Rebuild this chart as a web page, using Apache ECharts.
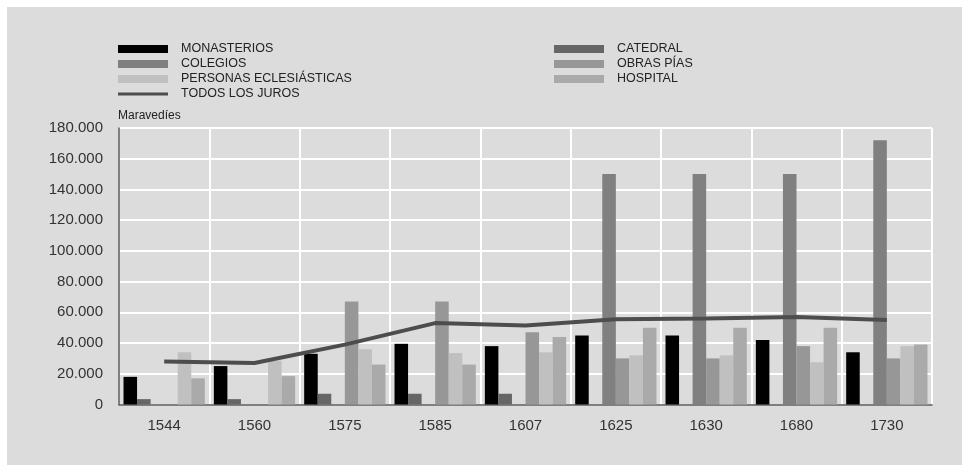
<!DOCTYPE html>
<html>
<head>
<meta charset="utf-8">
<script src="https://cdn.jsdelivr.net/npm/echarts@6/dist/echarts.min.js"></script>
<style>
  html, body { margin: 0; padding: 0; background: #ffffff; }
  #frame { position: absolute; left: 7px; top: 7px; width: 955px; height: 458px; background: #dcdcdc; }
  #chart { position: absolute; left: 0; top: 0; width: 963px; height: 466px; }
</style>
</head>
<body>
<div id="frame"></div>
<div id="chart"></div>
<script>
const years = ['1544', '1560', '1575', '1585', '1607', '1625', '1630', '1680', '1730'];
const monasterios = [18000, 25000, 33000, 39500, 38000, 45000, 45000, 42000, 34000];
const catedral = [3500, 3500, 7000, 7000, 7000, null, null, null, null];
const colegios = [null, null, null, null, null, 150000, 150000, 150000, 172000];
const obrasPias = [null, null, 67000, 67000, 47000, 30000, 30000, 38000, 30000];
const personas = [34000, 28500, 36000, 33500, 34000, 32000, 32000, 27500, 38000];
const hospital = [17000, 18500, 26000, 26000, 44000, 50000, 50000, 50000, 39000];
const todosJuros = [28000, 27000, 39000, 53000, 51500, 55500, 56000, 57000, 55000];

const fontFam = '"Liberation Sans", Arial, sans-serif';
function fmt(v) {
  return String(v).replace(/\B(?=(\d{3})+(?!\d))/g, '.');
}
function bar(name, data, color) {
  return {
    name: name, type: 'bar', data: data, barGap: '0%', barCategoryGap: '10%',
    itemStyle: { color: color }, z: 2
  };
}
const lineIcon = 'path://M0,0L0.001,0Z M0,2.5L50,2.5L50,5.5L0,5.5Z M0,8L0.001,8Z';
const chart = echarts.init(document.getElementById('chart'), null, { renderer: 'canvas' });
const legendText = { color: '#222', fontSize: 12.5, fontFamily: fontFam, lineHeight: 13, padding: [0, 0, 0, 8] };
chart.setOption({
  backgroundColor: 'transparent',
  animation: false,
  legend: [
    {
      orient: 'vertical', left: 118, top: 42.5, padding: 0,
      itemWidth: 50, itemHeight: 8, itemGap: 2, icon: 'rect',
      textStyle: legendText,
      data: ['MONASTERIOS', 'COLEGIOS', 'PERSONAS ECLESIÁSTICAS',
        { name: 'TODOS LOS JUROS', icon: lineIcon }]
    },
    {
      orient: 'vertical', left: 554, top: 42.5, padding: 0,
      itemWidth: 50, itemHeight: 8, itemGap: 2, icon: 'rect',
      textStyle: legendText,
      data: ['CATEDRAL', 'OBRAS PÍAS', 'HOSPITAL']
    }
  ],
  grid: { left: 119, right: 31, top: 128, bottom: 61.5, containLabel: false },
  xAxis: {
    type: 'category', data: years, boundaryGap: true,
    axisLine: { lineStyle: { color: '#555', width: 1.5 } },
    axisTick: { show: false },
    axisLabel: { color: '#333', fontSize: 15, fontFamily: fontFam, margin: 14 },
    splitLine: { show: true, interval: 0, lineStyle: { color: '#ffffff', width: 2 } }
  },
  yAxis: {
    type: 'value', min: 0, max: 180000, interval: 20000,
    name: 'Maravedíes', nameLocation: 'end', nameGap: 6,
    nameTextStyle: { color: '#222', fontSize: 12, fontFamily: fontFam, align: 'left', padding: [0, 0, 0, -1] },
    axisLine: { show: true, lineStyle: { color: '#555', width: 1.5 } },
    axisTick: { show: false },
    axisLabel: { color: '#333', fontSize: 15, fontFamily: fontFam, margin: 16, formatter: fmt },
    splitLine: { show: true, lineStyle: { color: '#ffffff', width: 2 } }
  },
  series: [
    bar('MONASTERIOS', monasterios, '#000000'),
    bar('CATEDRAL', catedral, '#666666'),
    bar('COLEGIOS', colegios, '#808080'),
    bar('OBRAS PÍAS', obrasPias, '#979797'),
    bar('PERSONAS ECLESIÁSTICAS', personas, '#c0c0c0'),
    bar('HOSPITAL', hospital, '#aaaaaa'),
    {
      name: 'TODOS LOS JUROS', type: 'line', data: todosJuros,
      symbol: 'none', z: 5,
      lineStyle: { color: '#4d4d4d', width: 4 },
      itemStyle: { color: '#4d4d4d' }
    }
  ]
});
</script>
</body>
</html>
